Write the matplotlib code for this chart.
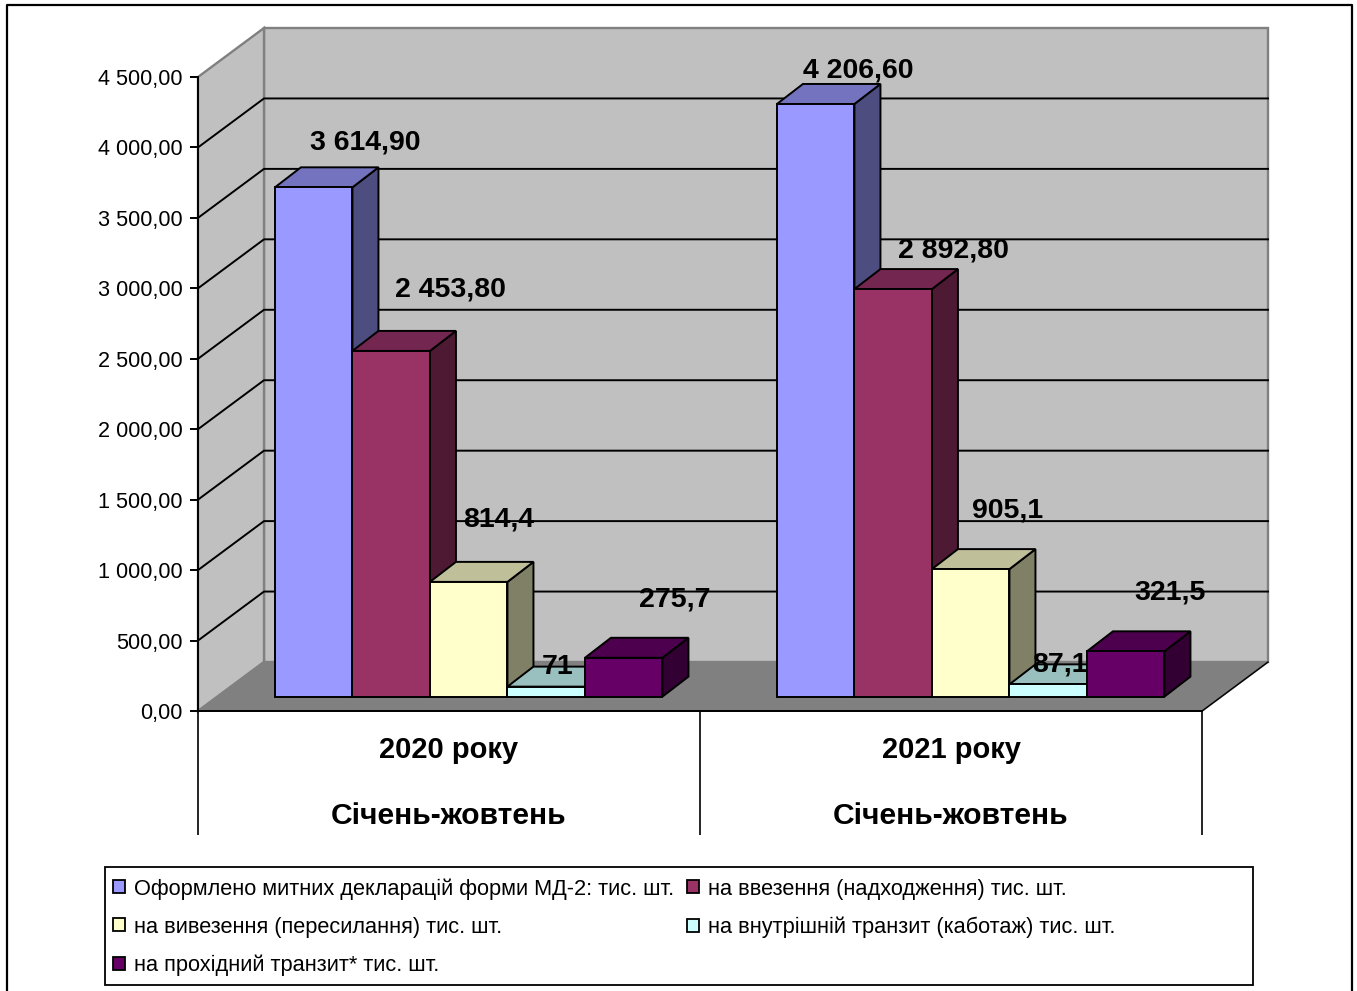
#importing libraries
import matplotlib
matplotlib.use("Agg")
import matplotlib.pyplot as plt
from matplotlib.lines import Line2D
from matplotlib.patches import Rectangle
from matplotlib.ticker import FuncFormatter

plt.rcParams["font.family"] = ["Liberation Sans", "DejaVu Sans"]

#chart values
years = ["2020 року", "2021 року"]
period = "Січень-жовтень"
series_names = [
    "Оформлено митних декларацій форми МД-2: тис. шт.",
    "на ввезення (надходження) тис. шт.",
    "на вивезення (пересилання) тис. шт.",
    "на внутрішній транзит (каботаж) тис. шт.",
    "на прохідний транзит* тис. шт.",
]
declarations = [3614.9, 4206.6]
imports = [2453.8, 2892.8]
exports = [814.4, 905.1]
inner_transit = [71, 87.1]
pass_transit = [275.7, 321.5]
all_series = [declarations, imports, exports, inner_transit, pass_transit]
value_labels = [
    ["3 614,90", "4 206,60"],
    ["2 453,80", "2 892,80"],
    ["814,4", "905,1"],
    ["71", "87,1"],
    ["275,7", "321,5"],
]
y_ticks = [0, 500, 1000, 1500, 2000, 2500, 3000, 3500, 4000, 4500]

#colours: front, top, side
front_colors = ["#9999FF", "#993366", "#FFFFCC", "#CCFFFF", "#660066"]
top_colors = ["#7373BF", "#732650", "#BFBF99", "#99BFBF", "#4D004D"]
side_colors = ["#4D4D80", "#4D1933", "#808066", "#668080", "#330033"]

#label shift from the top centre of the bar, in pixels
label_shift = [
    [(52, 45), (43, 33)],
    [(59, 61), (60, 39)],
    [(30, 62), (37, 59)],
    [(11, 20), (12, 20)],
    [(51, 58), (44, 59)],
]

W, H = 1357, 991
fig = plt.figure(figsize=(W / 100, H / 100), dpi=100)
ax = fig.add_axes([198 / W, (H - 711) / H, 1004 / W, 634 / H])
ax.set_xlim(0, 2)
ax.set_ylim(0, 4500)

#sizes of one pixel in data units
px_x = 2 / 1004
px_y = 4500 / 634
wall_dx = 66 * px_x
wall_dy = 49 * px_y
bar_dx = 26 * px_x
bar_dy = 20 * px_y
base_x = 19.7 * px_x
base_y = 102
bar_w = 77.5 * px_x
LW = 1.4

#walls and floor
ax.fill([wall_dx, 2 + wall_dx, 2 + wall_dx, wall_dx],
        [wall_dy, wall_dy, 4500 + wall_dy, 4500 + wall_dy],
        facecolor="#C0C0C0", edgecolor="#808080", lw=1.7, clip_on=False, zorder=1)
ax.fill([0, wall_dx, wall_dx, 0], [0, wall_dy, 4500 + wall_dy, 4500],
        facecolor="#C0C0C0", edgecolor="#808080", lw=1.7, clip_on=False, zorder=1)
ax.fill([0, 2, 2 + wall_dx, wall_dx], [0, 0, wall_dy, wall_dy],
        facecolor="#808080", edgecolor="#808080", lw=LW, clip_on=False, zorder=1)
ax.plot([2, 2 + wall_dx], [0, wall_dy], color="black", lw=1.0, clip_on=False, zorder=2)

#grid lines on the walls
for t in y_ticks[1:-1]:
    ax.plot([0, wall_dx, 2 + wall_dx], [t, t + wall_dy, t + wall_dy],
            color="black", lw=LW, clip_on=False, zorder=2)

#bars with top and side faces
order = 3
for c in range(len(years)):
    for s, values in enumerate(all_series):
        v = values[c]
        x0 = c + 0.5 + (s - 2.5) * bar_w + base_x
        x1 = x0 + bar_w
        y0 = base_y
        y1 = base_y + v
        ax.fill([x1, x1 + bar_dx, x1 + bar_dx, x1], [y0, y0 + bar_dy, y1 + bar_dy, y1],
                facecolor=side_colors[s], edgecolor="black", lw=LW, clip_on=False, zorder=order)
        ax.fill([x0, x1, x1 + bar_dx, x0 + bar_dx], [y1, y1, y1 + bar_dy, y1 + bar_dy],
                facecolor=top_colors[s], edgecolor="black", lw=LW, clip_on=False, zorder=order)
        ax.bar(x0, v, bar_w, bottom=y0, align="edge", color=front_colors[s],
               edgecolor="black", lw=LW, clip_on=False, zorder=order,
               label=series_names[s] if c == 0 else None)
        order += 1

#value labels
for s, values in enumerate(all_series):
    for c, v in enumerate(values):
        cx = c + 0.5 + (s - 2) * bar_w + base_x
        dx, dy = label_shift[s][c]
        ax.text(cx + dx * px_x, base_y + v + dy * px_y, value_labels[s][c],
                ha="center", va="center", fontsize=20.5, fontweight="bold",
                color="black", zorder=50)

#axes look
for side in ["top", "right"]:
    ax.spines[side].set_visible(False)
for side in ["left", "bottom"]:
    ax.spines[side].set_linewidth(LW)
    ax.spines[side].set_zorder(40)
ax.set_yticks(y_ticks)
ax.yaxis.set_major_formatter(FuncFormatter(
    lambda v, p: f"{v:,.2f}".replace(",", " ").replace(".", ",")))
ax.tick_params(axis="y", length=6, width=LW, labelsize=15.6, pad=5)
ax.set_xticks([0, 1, 2])
ax.set_xticklabels([])
ax.tick_params(axis="x", length=124 * 0.72, width=1.2)

#category labels
for c, year in enumerate(years):
    ax.annotate(year, (c + 0.5, 0), xytext=(0, -39 * 0.72), textcoords="offset points",
                ha="center", va="center", fontsize=21, fontweight="bold", annotation_clip=False)
    ax.annotate(period, (c + 0.5, 0), xytext=(0, -105 * 0.72), textcoords="offset points",
                ha="center", va="center", fontsize=21.6, fontweight="bold", annotation_clip=False)

#legend, filled column by column so order is the one of the picture
handles, labels = ax.get_legend_handles_labels()
pick = [0, 2, 4, 1, 3]
leg = fig.legend([handles[i] for i in pick], [labels[i] for i in pick], ncol=2,
                 loc="upper left", bbox_to_anchor=(105 / W, 1 - 870 / H), borderaxespad=0,
                 frameon=False, fontsize=15.7, handlelength=0.55, handleheight=0.55,
                 handletextpad=0.41, columnspacing=0.6, labelspacing=0.78, borderpad=0.37)
for h in leg.legend_handles:
    h.set_linewidth(1.3)
fig.add_artist(Rectangle((105 / W, 1 - 985 / H), 1148 / W, 118 / H, transform=fig.transFigure,
                         facecolor="none", edgecolor="black", lw=1.3))

#outer frame, open at the bottom
fig.add_artist(Line2D([6.5 / W, 6.5 / W, 1352 / W, 1352 / W], [0, 1 - 5 / H, 1 - 5 / H, 0],
                      color="black", lw=1.6))

fig.savefig("out.png", dpi=100)
